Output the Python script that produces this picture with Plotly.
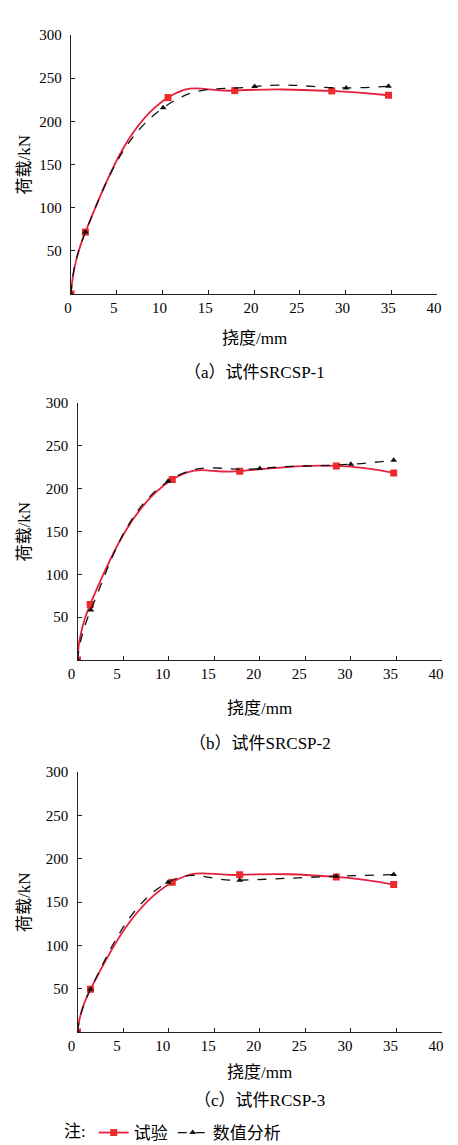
import plotly.graph_objects as go

# page body has an 8px margin: figure drawn at (8,8) inside the 458x1145 window
OFF = 8
W, H = 458 - 2 * OFF, 1145 - OFF

# ---- data ----
exp_x_a = [0, 1.57, 10.6, 17.9, 28.5, 34.7]
exp_y_a = [0, 71.7, 227.5, 235.6, 235.2, 230.2]
num_x_a = [0, 1.57, 10.07, 20.07, 30.07, 34.7]
num_y_a = [0, 71.7, 215.6, 240.3, 238.7, 240.6]

exp_x_b = [0, 1.39, 10.4, 17.8, 28.4, 34.7]
exp_y_b = [0, 64.9, 210.6, 220.4, 226.6, 218.4]
num_x_b = [0, 1.46, 9.95, 20.0, 30.0, 34.7]
num_y_b = [0, 58.3, 208.7, 223.5, 228.5, 233.2]

exp_x_c = [0, 1.43, 10.4, 17.8, 28.4, 34.7]
exp_y_c = [0, 49.4, 172.8, 181.3, 178.9, 170.1]
num_x_c = [0, 1.43, 9.95, 17.8, 28.4, 34.7]
num_y_c = [0, 49.4, 172.8, 175.1, 179.7, 181.6]

x_ticks = [0, 5, 10, 15, 20, 25, 30, 35, 40]
y_ticks = [50, 100, 150, 200, 250, 300]
captions = ["（a）试件SRCSP-1", "（b）试件SRCSP-2", "（c）试件RCSP-3"]
x_title = "挠度/mm"
y_title = "荷载/kN"
legend_names = ["试验", "数值分析"]

# ---- layout geometry (window pixels) ----
panels = [
    dict(x0=71, x1=437, y0=35, y1=294, shift=-3, xt=338, cap=373),
    dict(x0=77.5, x1=442, y0=403, y1=660, shift=-6, xt=708, cap=743),
    dict(x0=77.5, x1=442, y0=772, y1=1032, shift=-6, xt=1072, cap=1100),
]
series = [
    (exp_x_a, exp_y_a, num_x_a, num_y_a),
    (exp_x_b, exp_y_b, num_x_b, num_y_b),
    (exp_x_c, exp_y_c, num_x_c, num_y_c),
]


def px(x):
    return (x - OFF) / W


def py(y):
    return 1 - (y - OFF) / H


RED = "#e8203f"
MRED = "#ee2a2a"
BLK = "#111111"
AX = "#222222"
FONT = "Liberation Serif, Noto Sans CJK SC, serif"
TFONT = dict(family=FONT, size=15, color="#000")

fig = go.Figure()
layout = {}
annotations = []

for i, (p, s) in enumerate(zip(panels, series)):
    idx = "" if i == 0 else str(i + 1)
    xa = "x" + idx
    ya = "y" + idx
    ex, ey, nx, ny = s
    fig.add_trace(go.Scatter(
        x=ex, y=ey, xaxis=xa, yaxis=ya, mode="lines+markers",
        line=dict(color=RED, width=1.8, shape="spline", smoothing=1.3),
        marker=dict(symbol="square", size=7, color=MRED),
        name=legend_names[0], legendgroup="exp", showlegend=(i == 0),
    ))
    fig.add_trace(go.Scatter(
        x=nx, y=ny, xaxis=xa, yaxis=ya, mode="lines+markers",
        line=dict(color=BLK, width=1.3, dash="dash", shape="spline", smoothing=1.3),
        marker=dict(symbol="triangle-up", size=6, color=BLK),
        name=legend_names[1], legendgroup="num", showlegend=(i == 0),
    ))
    layout["xaxis" + idx] = dict(
        domain=[px(p["x0"]), px(p["x1"])], range=[0, 40], anchor=ya,
        tickmode="array", tickvals=x_ticks, ticks="inside", ticklen=4,
        tickcolor=AX, showline=True, linecolor=AX, linewidth=1.3,
        showgrid=False, zeroline=False, ticklabelshift=p["shift"],
        tickfont=TFONT, fixedrange=True, automargin=False,
    )
    layout["yaxis" + idx] = dict(
        domain=[py(p["y1"]), py(p["y0"])], range=[0, 300], anchor=xa,
        tickmode="array", tickvals=y_ticks, ticks="inside", ticklen=4,
        tickcolor=AX, showline=True, linecolor=AX, linewidth=1.3,
        showgrid=False, zeroline=False, ticklabelstandoff=5,
        tickfont=TFONT, fixedrange=True, automargin=False,
    )
    cx = px((p["x0"] + p["x1"]) / 2)
    annotations.append(dict(
        text=x_title, x=cx, y=py(p["xt"]), xref="paper", yref="paper",
        showarrow=False, font=dict(family=FONT, size=17, color="#000"),
        xanchor="center", yanchor="middle"))
    annotations.append(dict(
        text=captions[i], x=cx, y=py(p["cap"]), xref="paper", yref="paper",
        showarrow=False, font=dict(family=FONT, size=17, color="#000"),
        xanchor="center", yanchor="middle"))
    annotations.append(dict(
        text=y_title, x=px(24), y=py((p["y0"] + p["y1"]) / 2),
        xref="paper", yref="paper", textangle=-90,
        showarrow=False, font=dict(family=FONT, size=17, color="#000"),
        xanchor="center", yanchor="middle"))

fig.update_layout(
    width=W, height=H, margin=dict(l=0, r=0, t=0, b=0, autoexpand=False),
    paper_bgcolor="white", plot_bgcolor="white",
    annotations=annotations,
    legend=dict(
        orientation="h", x=px(62), y=py(1133), xanchor="left", yanchor="middle",
        title=dict(text="注:", font=dict(family=FONT, size=17, color="#000")),
        font=dict(family=FONT, size=17, color="#000"),
        itemwidth=30, tracegroupgap=0, bgcolor="rgba(0,0,0,0)",
    ),
    **layout,
)

fig.write_html("out.html")
